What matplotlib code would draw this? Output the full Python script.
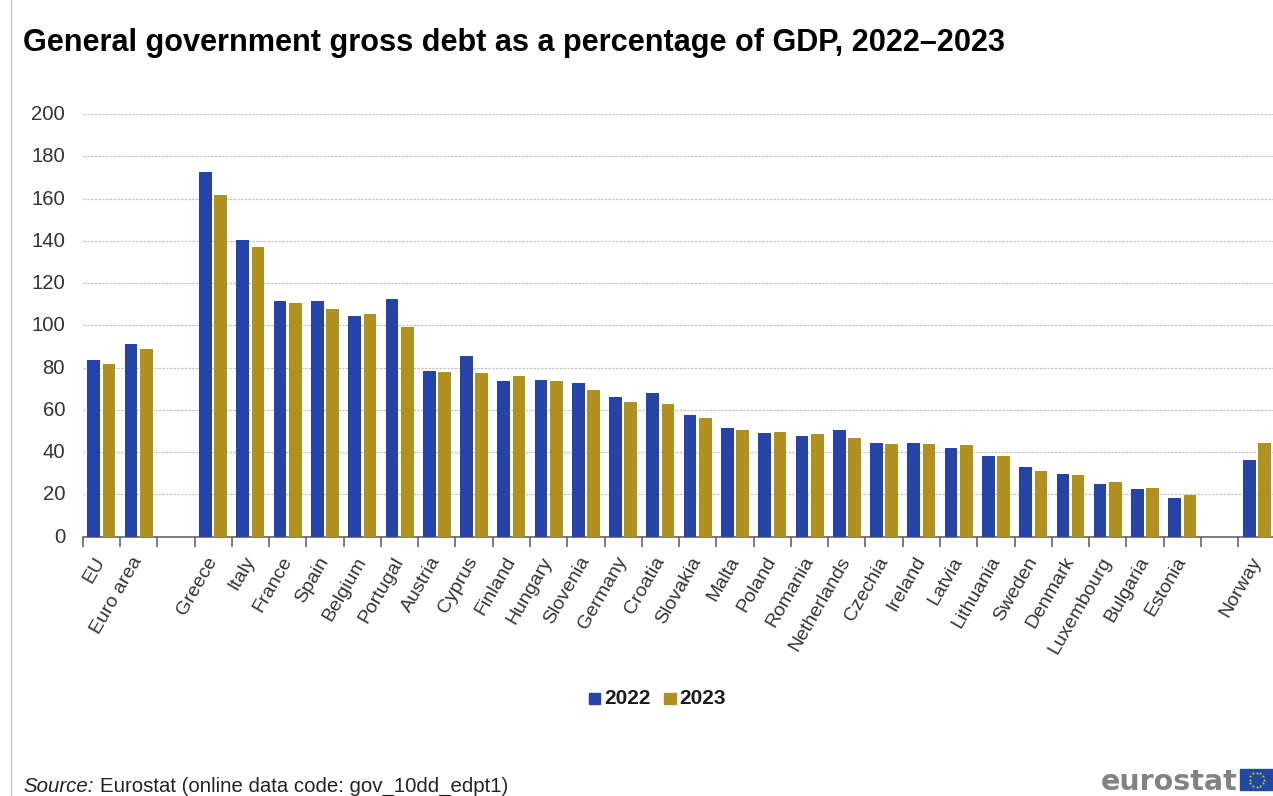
import numpy as np
import matplotlib
matplotlib.use('Agg')
import matplotlib.pyplot as plt
from matplotlib.patches import Rectangle
from matplotlib.transforms import ScaledTranslation

plt.rcParams['font.family'] = ['Liberation Sans', 'DejaVu Sans']

# an empty name leaves a gap between the groups of countries
paises = ['EU', 'Euro area', '', 'Greece', 'Italy', 'France', 'Spain', 'Belgium', 'Portugal',
          'Austria', 'Cyprus', 'Finland', 'Hungary', 'Slovenia', 'Germany', 'Croatia',
          'Slovakia', 'Malta', 'Poland', 'Romania', 'Netherlands', 'Czechia', 'Ireland',
          'Latvia', 'Lithuania', 'Sweden', 'Denmark', 'Luxembourg', 'Bulgaria', 'Estonia',
          '', 'Norway']
deuda_2022 = [83.4, 91.0, np.nan, 172.5, 140.5, 111.7, 111.6, 104.3, 112.4,
              78.4, 85.6, 73.5, 74.1, 72.5, 66.1, 68.2,
              57.7, 51.6, 49.2, 47.5, 50.3, 44.2, 44.4,
              41.8, 38.1, 33.2, 29.8, 24.7, 22.6, 18.5,
              np.nan, 36.3]
deuda_2023 = [81.9, 88.6, np.nan, 161.9, 137.3, 110.6, 107.7, 105.2, 99.1,
              77.8, 77.3, 75.8, 73.5, 69.2, 63.6, 63.0,
              56.0, 50.4, 49.6, 48.8, 46.5, 44.0, 43.7,
              43.6, 38.3, 31.2, 29.3, 25.7, 23.1, 19.6,
              np.nan, 44.4]
marcas_y = [0, 20, 40, 60, 80, 100, 120, 140, 160, 180, 200]

AZUL = '#2644A7'
ORO = '#B09120'
ANCHO, ALTO = 1273, 796

def fx(px):
    return px / ANCHO

def fy(py):
    return 1 - py / ALTO

fig = plt.figure(figsize=(ANCHO / 100, ALTO / 100), dpi=100)

# the plot runs slightly past the right edge of the figure
izq, der, arriba, abajo = 82.7, 1275.5, 114.0, 536.7
ax = fig.add_axes([fx(izq), fy(abajo), (der - izq) / ANCHO, (abajo - arriba) / ALTO])

x = np.arange(len(paises))
ax.bar(x - 0.205, deuda_2022, width=0.34, color=AZUL, zorder=3, label='2022')
ax.bar(x + 0.205, deuda_2023, width=0.34, color=ORO, zorder=3, label='2023')

ax.set_xlim(-0.5, len(paises) - 0.5)
ax.set_ylim(0, 200)
ax.set_yticks(marcas_y)
ax.tick_params(axis='y', length=0, labelsize=14.6, labelcolor='#333333', pad=12.7)
ax.grid(axis='y', color='#c4c4c4', linestyle=(0, (2, 1)), linewidth=0.9, zorder=0)

# nudge the value labels up a little against their gridlines
subir = ScaledTranslation(0, 1.5 / 100, fig.dpi_scale_trans)
for etiqueta in ax.get_yticklabels():
    etiqueta.set_transform(etiqueta.get_transform() + subir)

# tick marks sit between the countries, names sit under the bars
ax.set_xticks(np.arange(len(paises) + 1) - 0.5)
ax.set_xticklabels([])
ax.tick_params(axis='x', which='major', length=7, width=1.1, color='#595959')
ax.set_xticks(x, minor=True)
ax.set_xticklabels(paises, minor=True, rotation=60, ha='right', va='center',
                   rotation_mode='anchor', fontsize=14, color='#333333')
ax.tick_params(axis='x', which='minor', length=0, pad=15.4)

for lado in ['top', 'left', 'right']:
    ax.spines[lado].set_visible(False)
ax.spines['bottom'].set_color('#595959')
ax.spines['bottom'].set_linewidth(1.1)

# thin rule on the left of the page
fig.add_artist(plt.Line2D([fx(10.5), fx(10.5)], [0, 1], color='#c4c4c4', linewidth=1.0))

fig.text(fx(23), fy(51), 'General government gross debt as a percentage of GDP, 2022–2023',
         fontsize=22.1, fontweight='bold', color='black', va='baseline')

# legend
for xc, color, txt in [(588.5, AZUL, '2022'), (664, ORO, '2023')]:
    fig.add_artist(Rectangle((fx(xc), fy(704)), 11.5 / ANCHO, 11 / ALTO, color=color,
                             transform=fig.transFigure))
    fig.text(fx(xc + 15.7), fy(704), txt, fontsize=15, fontweight='bold', color='#1a1a1a',
             va='baseline')

# source line
fig.text(fx(23), fy(792), 'Source:', fontsize=14.7, style='italic', color='#222222', va='baseline')
fig.text(fx(99.5), fy(792), 'Eurostat (online data code: gov_10dd_edpt1)', fontsize=14.7,
         color='#222222', va='baseline')

# logo
fig.text(fx(1101), fy(790), 'eurostat', fontsize=20.5, fontweight='bold', family='DejaVu Sans',
         color='#808285', va='baseline')
fig.add_artist(Rectangle((fx(1240), fy(790)), 33 / ANCHO, 21 / ALTO, color='#1f4aa0',
                         transform=fig.transFigure))
ang = np.arange(12) * np.pi / 6
fig.add_artist(plt.Line2D(fx(1256.5) + 7 * np.cos(ang) / ANCHO,
                          fy(779.5) + 7 * np.sin(ang) / ALTO,
                          linestyle='none', marker='*', markersize=2.4, color='#e8c92c',
                          markeredgewidth=0))

fig.savefig('out.png', dpi=100)
